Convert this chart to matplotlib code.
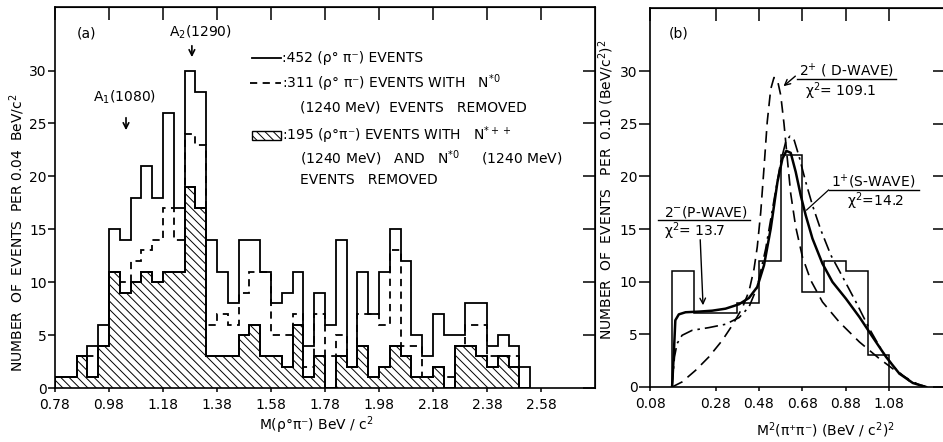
import matplotlib
matplotlib.use("Agg")
import matplotlib.pyplot as plt
from matplotlib.patches import Rectangle
import numpy as np

plt.rcParams['font.family'] = ['DejaVu Sans']
plt.rcParams['mathtext.default'] = 'regular'
plt.rcParams['hatch.linewidth'] = 0.7
plt.rcParams['hatch.color'] = 'black'

# ---------------- Panel (a) data ----------------
mass_bin_start = 0.78
mass_bin_width = 0.04
all_events = [1, 1, 3, 4, 6, 15, 14, 18, 21, 18, 26, 17, 30, 28, 14, 11, 8, 14, 14, 11,
              8, 9, 11, 4, 9, 6, 14, 2, 11, 7, 11, 15, 12, 5, 3, 7, 5, 5, 8, 8,
              4, 5, 4, 2]
n0_removed = [1, 1, 3, 3, 4, 11, 10, 12, 13, 14, 17, 14, 24, 23, 6, 7, 6, 9, 11, 11,
              5, 5, 7, 2, 7, 3, 5, 2, 7, 7, 6, 13, 4, 4, 1, 2, 1, 4, 6, 6,
              3, 3, 3, 0]
both_removed = [1, 1, 3, 1, 4, 11, 9, 10, 11, 10, 11, 11, 19, 17, 3, 3, 3, 5, 6, 3,
                3, 2, 6, 1, 3, 0, 3, 2, 4, 1, 2, 4, 3, 1, 1, 2, 0, 4, 4, 3,
                2, 3, 2, 0]
a_xticks = [0.78, 0.98, 1.18, 1.38, 1.58, 1.78, 1.98, 2.18, 2.38, 2.58]
a_yticks = [0, 5, 10, 15, 20, 25, 30]

# ---------------- Panel (b) data ----------------
m2_bin_start = 0.08
m2_bin_width = 0.10
m2_counts = [11, 7, 7, 8, 12, 22, 9, 12, 11, 3]

p_wave_x = [0.080, 0.088, 0.095, 0.111, 0.142, 0.203, 0.265, 0.326, 0.388, 0.434, 0.472,
            0.503, 0.534, 0.565, 0.588, 0.606, 0.626, 0.649, 0.672, 0.695, 0.726, 0.772,
            0.818, 0.880, 0.942, 1.003, 1.065, 1.126, 1.188, 1.249]
p_wave_y = [0.0, 3.17, 6.34, 6.90, 7.10, 7.16, 7.25, 7.44, 7.86, 8.46, 9.50,
            11.56, 15.05, 19.48, 21.70, 22.43, 22.24, 20.43, 18.21, 16.31, 14.10, 11.72,
            9.98, 8.39, 6.65, 4.75, 2.85, 1.27, 0.38, 0.0]

s_wave_x = [0.080, 0.091, 0.103, 0.126, 0.172, 0.249, 0.326, 0.388, 0.434, 0.472, 0.511,
            0.549, 0.580, 0.603, 0.622, 0.642, 0.665, 0.695, 0.726, 0.765, 0.811, 0.865,
            0.926, 0.988, 1.049, 1.111, 1.172, 1.249]
s_wave_y = [0.0, 2.85, 4.12, 4.91, 5.38, 5.64, 5.96, 6.59, 7.60, 9.50, 13.15,
            17.74, 21.38, 23.28, 23.82, 23.44, 21.86, 19.48, 17.26, 14.89, 12.51, 10.45,
            8.08, 5.54, 3.33, 1.65, 0.57, 0.0]

d_wave_x = [0.080, 0.126, 0.188, 0.249, 0.311, 0.357, 0.403, 0.434, 0.457, 0.472, 0.488,
            0.503, 0.518, 0.534, 0.549, 0.565, 0.580, 0.595, 0.611, 0.626, 0.649, 0.680,
            0.718, 0.772, 0.849, 0.942, 1.034, 1.126, 1.203, 1.249]
d_wave_y = [0.0, 0.48, 1.58, 2.85, 4.43, 5.86, 7.50, 9.10, 11.20, 13.30, 16.60,
            20.80, 25.20, 28.30, 29.40, 29.14, 27.72, 25.02, 21.54, 18.37, 15.20, 12.35,
            10.14, 8.08, 6.18, 4.28, 2.69, 1.27, 0.32, 0.0]
b_xticks = [0.28, 0.48, 0.68, 0.88, 1.08]
b_yticks = [0, 5, 10, 15, 20, 25, 30]

# ---------------- figure ----------------
W, H = 943, 442
fig = plt.figure(figsize=(W / 100, H / 100), dpi=100)


def px_axes(l, t, r, b):
    return fig.add_axes([l / W, 1 - b / H, (r - l) / W, (b - t) / H])


LW = 1.3
TFS = 10
FS = 10


def style_axes(ax, xt, xl, yt, ylen):
    for s in ax.spines.values():
        s.set_linewidth(1.2)
    ax.set_yticks(yt)
    ax.set_yticklabels([str(v) for v in yt], fontsize=TFS)
    ax.set_xticks(xt)
    ax.set_xticklabels(xl, fontsize=TFS)
    ax.tick_params(axis='y', direction='out', length=ylen, width=1.1, pad=1)
    ax.tick_params(axis='x', direction='out', length=3, width=1.1, pad=4)
    sx = ax.secondary_xaxis('top')
    sx.set_xticks(xt)
    sx.tick_params(direction='in', length=9, width=1.1, labeltop=False)
    sy = ax.secondary_yaxis('right')
    sy.set_yticks(yt)
    sy.tick_params(direction='in', length=9, width=1.1, labelright=False)


# ---------- Panel (a) ----------
axa = px_axes(55, 7, 595, 388)
edges_a = mass_bin_start + mass_bin_width * np.arange(len(all_events) + 1)
axa.stairs(both_removed, edges_a, baseline=0, fill=True, facecolor='white',
           edgecolor='black', hatch='\\\\\\\\', linewidth=LW)
axa.stairs(both_removed, edges_a, baseline=0, color='black', linewidth=LW)
axa.stairs(n0_removed, edges_a, baseline=0, color='black', linewidth=LW,
           linestyle=(0, (4, 3)))
axa.stairs(all_events, edges_a, baseline=0, color='black', linewidth=LW)
axa.set_xlim(0.78, 2.78)
axa.set_ylim(0, 36)
style_axes(axa, a_xticks, [f"{v:.2f}" for v in a_xticks], a_yticks, 5)

axa.text(0.898, 33.5, "(a)", fontsize=FS, ha='center', va='center')
axa.text(1.317, 33.6, "A$_2$(1290)", fontsize=FS, ha='center', va='center')
axa.annotate("", xy=(1.287, 31.0), xytext=(1.287, 32.6),
             arrowprops=dict(arrowstyle='->', lw=1.2, color='black'))
axa.text(1.036, 27.5, "A$_1$(1080)", fontsize=FS, ha='center', va='center')
axa.annotate("", xy=(1.043, 24.1), xytext=(1.043, 25.8),
             arrowprops=dict(arrowstyle='->', lw=1.2, color='black'))

# legend block
axa.plot([1.510, 1.617], [31.18, 31.18], color='black', lw=LW)
axa.plot([1.502, 1.617], [28.82, 28.82], color='black', lw=LW, linestyle=(0, (4, 3)))
axa.add_patch(Rectangle((1.510, 23.43), 0.107, 0.85, facecolor='white',
                        edgecolor='black', hatch='\\\\\\\\', lw=1.0))
legend_lines = [
    (1.621, 31.18, ":452 (ρ° π⁻) EVENTS"),
    (1.621, 28.82, ":311 (ρ° π⁻) EVENTS WITH   N$^{*0}$"),
    (1.687, 26.55, "(1240 MeV)  EVENTS   REMOVED"),
    (1.621, 23.90, ":195 (ρ°π⁻) EVENTS WITH   N$^{*++}$"),
    (1.687, 21.73, "(1240 MeV)   AND   N$^{*0}$     (1240 MeV)"),
    (1.687, 19.65, "EVENTS   REMOVED"),
]
for x, y, s in legend_lines:
    axa.text(x, y, s, fontsize=FS, ha='left', va='center')

# ---------- Panel (b) ----------
axb = px_axes(650, 8, 945, 387)
edges_b = m2_bin_start + m2_bin_width * np.arange(len(m2_counts) + 1)
axb.stairs(m2_counts, edges_b, baseline=0, color='black', linewidth=1.1)
axb.plot(d_wave_x, d_wave_y, color='black', lw=1.2, linestyle=(0, (7, 4)))
axb.plot(s_wave_x, s_wave_y, color='black', lw=1.2, linestyle=(0, (8, 3, 1.5, 3)))
axb.plot(p_wave_x, p_wave_y, color='black', lw=1.8)
axb.set_xlim(-0.0216, 1.336)
axb.set_ylim(0, 36)
style_axes(axb, [-0.0216] + b_xticks, ["0.08"] + [f"{v:.2f}" for v in b_xticks],
           b_yticks, 8)

axb.text(0.108, 33.6, "(b)", fontsize=FS, ha='center', va='center')
# D-wave
axb.text(0.884, 30.0, "2$^{+}$ ( D-WAVE)", fontsize=FS, ha='center', va='center')
axb.plot([0.657, 1.110], [29.25, 29.25], color='black', lw=1.0)
axb.text(0.856, 28.1, "χ$^{2}$= 109.1", fontsize=FS, ha='center', va='center')
axb.annotate("", xy=(0.583, 28.4), xytext=(0.657, 29.7),
             arrowprops=dict(arrowstyle='->', lw=1.0, color='black'))
# S-wave
axb.text(1.004, 19.47, "1$^{+}$(S-WAVE)", fontsize=FS, ha='center', va='center')
axb.plot([0.80, 1.216], [18.71, 18.71], color='black', lw=1.0)
axb.text(1.018, 17.67, "χ$^{2}$=14.2", fontsize=FS, ha='center', va='center')
axb.plot([0.80, 0.699], [18.71, 16.81], color='black', lw=0.9)
# P-wave
axb.text(0.237, 16.62, "2$^{-}$(P-WAVE)", fontsize=FS, ha='center', va='center')
axb.plot([0.0153, 0.44], [15.86, 15.86], color='black', lw=1.0)
axb.text(0.182, 14.82, "χ$^{2}$= 13.7", fontsize=FS, ha='center', va='center')
axb.annotate("", xy=(0.223, 7.5), xytext=(0.209, 14.25),
             arrowprops=dict(arrowstyle='->', lw=1.0, color='black'))

# axis labels
fig.text(17 / W, 1 - 233 / H, "NUMBER  OF  EVENTS  PER 0.04  BeV/c$^{2}$",
         rotation=90, ha='center', va='center', fontsize=FS)
fig.text(606 / W, 1 - 190 / H, "NUMBER  OF  EVENTS   PER  0.10 (BeV/c$^{2}$)$^{2}$",
         rotation=90, ha='center', va='center', fontsize=FS)
fig.text(316 / W, 1 - 425 / H, "M(ρ°π⁻) BeV / c$^{2}$", ha='center', va='center', fontsize=FS)
fig.text(825 / W, 1 - 430 / H, "M$^{2}$(π⁺π⁻) (BeV / c$^{2}$)$^{2}$", ha='center', va='center',
         fontsize=FS)

fig.savefig("out.png", dpi=100)
